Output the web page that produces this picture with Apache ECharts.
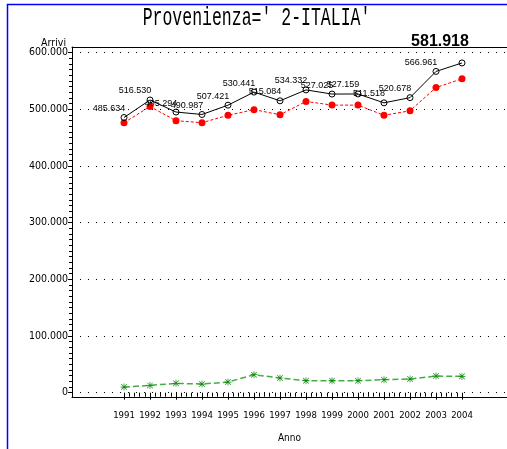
<!DOCTYPE html>
<html>
<head>
<meta charset="utf-8">
<script src="https://cdn.jsdelivr.net/npm/echarts@6/dist/echarts.min.js"></script>
<style>
  html, body { margin: 0; padding: 0; background: #fff; }
  #chart { width: 507px; height: 449px; }
</style>
</head>
<body>
<div id="chart"></div>
<script>
var anni = [1991, 1992, 1993, 1994, 1995, 1996, 1997, 1998, 1999, 2000, 2001, 2002, 2003, 2004];
var arriviTotale = [485634, 516530, 495294, 490987, 507421, 530441, 515084, 534332, 527025, 527159, 511518, 520678, 566961, 581918];
var arriviRosso = [476500, 505000, 480000, 476500, 489500, 499500, 490500, 514000, 507500, 507500, 489500, 497500, 538500, 554000];
var arriviVerde = [10000, 12900, 16500, 15300, 18800, 31800, 25900, 21200, 21200, 21200, 22900, 24100, 29400, 28800];
var yTicks = [0, 100000, 200000, 300000, 400000, 500000, 600000];

function puntini(v) {
    return String(v).replace(/\B(?=(\d{3})+(?!\d))/g, '.');
}
function coppie(arr) {
    return arr.map(function (v, i) { return [anni[i], v]; });
}

var narrow = '"DejaVu Sans Condensed", "DejaVu Sans", sans-serif';
var asterisco = 'path://M4.5 0L5.5 0L5.5 10L4.5 10Z M0 4.5L10 4.5L10 5.5L0 5.5Z M0.7 1.4L1.4 0.7L9.3 8.6L8.6 9.3Z M8.6 0.7L9.3 1.4L1.4 9.3L0.7 8.6Z';

var totaleData = coppie(arriviTotale);
totaleData[totaleData.length - 1] = {
    value: totaleData[totaleData.length - 1],
    label: { fontSize: 16, fontWeight: 'bold', offset: [-22, -21] }
};

var myChart = echarts.init(document.getElementById('chart'));

var option = {
    animation: false,
    grid: [
        { left: 72, right: -4, top: 47, bottom: 52 },
        { left: 72, right: -4, top: 52.7, bottom: 56.3 },
        { left: 124, right: 45, top: 52.7, bottom: 56.3 }
    ],
    graphic: [
        {
            type: 'rect',
            shape: { x: 7.5, y: 4.5, width: 700, height: 700 },
            style: { fill: 'none', stroke: '#0000ff', lineWidth: 1.5 }
        },
        {
            type: 'text',
            x: 256.5, y: 17.8,
            scaleY: 1.55,
            style: {
                text: "Provenienza=' 2-ITALIA'",
                fontSize: 16.5,
                fontFamily: '"Liberation Mono", monospace',
                align: 'center',
                verticalAlign: 'middle',
                fill: '#000'
            }
        }
    ],
    xAxis: [
        {
            gridIndex: 0, type: 'value', min: 0, max: 1,
            axisLine: { lineStyle: { color: '#000', width: 1 } },
            axisTick: { show: false }, axisLabel: { show: false }, splitLine: { show: false },
            name: 'Anno', nameLocation: 'middle', nameGap: 36,
            nameTextStyle: { fontFamily: narrow, fontSize: 10, color: '#000' }
        },
        {
            gridIndex: 0, type: 'value', min: 0, max: 1, position: 'top',
            axisLine: { lineStyle: { color: '#000', width: 1 } },
            axisTick: { show: false }, axisLabel: { show: false }, splitLine: { show: false }
        },
        { gridIndex: 1, type: 'value', show: false, min: 0, max: 1 },
        {
            gridIndex: 2, type: 'value', min: 1991, max: 2004, interval: 1, offset: 4.3,
            axisLine: { show: false },
            axisTick: { length: 7, lineStyle: { color: '#000' } },
            minorTick: { show: true, splitNumber: 5, length: 4, lineStyle: { color: '#000' } },
            axisLabel: {
                margin: 14, color: '#000', fontFamily: narrow, fontSize: 9.5,
                formatter: function (v) { return String(v); }
            },
            splitLine: { show: false }
        }
    ],
    yAxis: [
        {
            gridIndex: 0, type: 'value', min: 0, max: 1,
            axisLine: { show: true, lineStyle: { color: '#000', width: 1 } },
            axisTick: { show: false }, axisLabel: { show: false }, splitLine: { show: false },
            name: 'Arrivi', nameLocation: 'end', nameGap: -2,
            nameTextStyle: { fontFamily: narrow, fontSize: 10.5, color: '#000', align: 'right', verticalAlign: 'bottom', padding: [0, 6, 0, 0] }
        },
        {
            gridIndex: 1, type: 'value', min: yTicks[0], max: yTicks[yTicks.length - 1], interval: 100000,
            axisLine: { show: false },
            axisTick: { length: 4, lineStyle: { color: '#000' } },
            minorTick: { show: true, splitNumber: 10, length: 3, lineStyle: { color: '#000' } },
            axisLabel: { margin: 4, color: '#000', fontFamily: narrow, fontSize: 10.5, formatter: puntini },
            splitLine: { lineStyle: { color: '#000', type: [1, 7], width: 1 } }
        },
        { gridIndex: 2, type: 'value', show: false, min: yTicks[0], max: yTicks[yTicks.length - 1] }
    ],
    series: [
        {
            name: 'Verde', type: 'line', xAxisIndex: 3, yAxisIndex: 2,
            data: coppie(arriviVerde),
            symbol: asterisco, symbolSize: 7,
            itemStyle: { color: '#0f8a0f', borderWidth: 0 },
            lineStyle: { color: '#45ad45', width: 1.5, type: [6, 3] }
        },
        {
            name: 'Rosso', type: 'line', xAxisIndex: 3, yAxisIndex: 2,
            data: coppie(arriviRosso),
            symbol: 'circle', symbolSize: 7,
            itemStyle: { color: '#ff0000', borderWidth: 0 },
            lineStyle: { color: '#ff0000', width: 1, type: [3, 2] }
        },
        {
            name: 'Totale', type: 'line', xAxisIndex: 3, yAxisIndex: 2,
            data: totaleData,
            symbol: 'circle', symbolSize: 6,
            itemStyle: { color: 'transparent', borderColor: '#000', borderWidth: 1 },
            lineStyle: { color: '#000', width: 1 },
            label: {
                show: true, position: 'inside', offset: [-15, -9],
                fontFamily: '"Liberation Sans", Arial, sans-serif', fontSize: 9, color: '#000',
                formatter: function (p) { return puntini(p.value[1]); }
            }
        }
    ]
};
myChart.setOption(option);
</script>
</body>
</html>
